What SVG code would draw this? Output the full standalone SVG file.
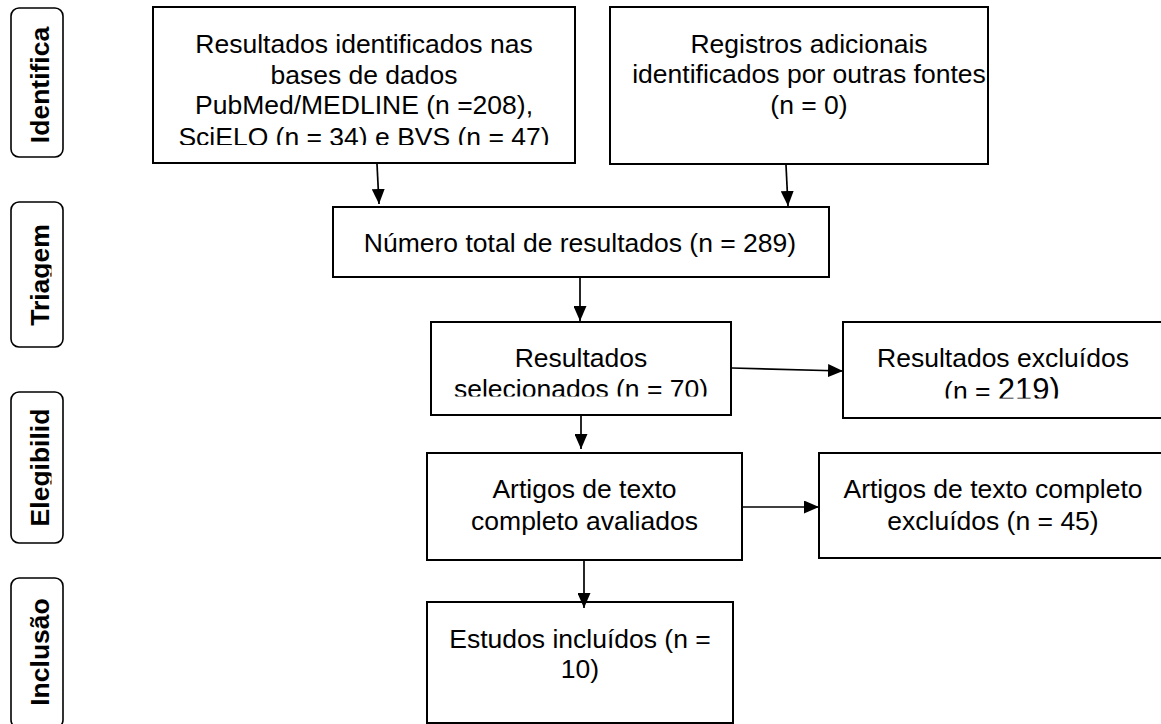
<svg xmlns="http://www.w3.org/2000/svg" width="1161" height="724" viewBox="0 0 1161 724">
<style>
.box{fill:#fff;stroke:#000;stroke-width:2}
.lab{fill:#fff;stroke:#000;stroke-width:1.6}
.t{font-family:"Liberation Sans",Arial,sans-serif;font-size:26.5px;fill:#000;text-anchor:middle}
.lt{font-family:"Liberation Sans",Arial,sans-serif;font-size:26.5px;font-weight:bold;fill:#000;text-anchor:middle}
.c{fill:none;stroke:#000;stroke-width:1.7}
</style>
<defs>
<marker id="ah" viewBox="0 0 15 13" refX="15" refY="6.5" markerWidth="15" markerHeight="13" markerUnits="userSpaceOnUse" orient="auto">
<path d="M0,0 L15,6.5 L0,13 z" fill="#000"/>
</marker>
<clipPath id="clipLab"><rect x="0" y="0" width="51.5" height="724"/></clipPath>
<clipPath id="clipB1"><rect x="150" y="0" width="430" height="145"/></clipPath>
<clipPath id="clipB4"><rect x="430" y="320" width="305" height="76.5"/></clipPath>
<clipPath id="clipB5"><rect x="840" y="320" width="321" height="78.5"/></clipPath>
</defs>
<rect width="1161" height="724" fill="#fff"/>

<g id="label-identifica">
<rect class="lab" x="11" y="8" width="52" height="149" rx="8"/>
<g clip-path="url(#clipLab)"><text class="lt" transform="translate(48.5,85) rotate(-90)">Identifica</text></g>
</g>
<g id="label-triagem">
<rect class="lab" x="11" y="202" width="52" height="145" rx="8"/>
<g clip-path="url(#clipLab)"><text class="lt" transform="translate(48.5,275) rotate(-90)">Triagem</text></g>
</g>
<g id="label-elegibilid">
<rect class="lab" x="11" y="392" width="52" height="151" rx="8"/>
<g clip-path="url(#clipLab)"><text class="lt" transform="translate(48.5,467.5) rotate(-90)">Elegibilid</text></g>
</g>
<g id="label-inclusao">
<rect class="lab" x="11" y="578" width="52" height="150" rx="8"/>
<g clip-path="url(#clipLab)"><text class="lt" transform="translate(48.5,652) rotate(-90)">Inclusão</text></g>
</g>

<g id="box-identificados">
<rect class="box" x="153" y="7" width="422" height="156"/>
<g clip-path="url(#clipB1)">
<text class="t" x="364" y="53">Resultados identificados nas</text>
<text class="t" x="364" y="83.5">bases de dados</text>
<text class="t" x="364" y="114">PubMed/MEDLINE (n =208),</text>
<text class="t" x="364" y="145.5">SciELO (n = 34) e BVS (n = 47)</text>
</g>
</g>

<g id="box-adicionais">
<rect class="box" x="610" y="7" width="378" height="157"/>
<text class="t" x="809" y="53">Registros adicionais</text>
<text class="t" x="809" y="83">identificados por outras fontes</text>
<text class="t" x="809" y="113.5">(n = 0)</text>
</g>

<g id="box-total">
<rect class="box" x="333" y="207" width="496" height="70"/>
<text class="t" x="580" y="252">Número total de resultados (n = 289)</text>
</g>

<g id="box-selecionados">
<rect class="box" x="431" y="322" width="300" height="93"/>
<g clip-path="url(#clipB4)">
<text class="t" x="581" y="367">Resultados</text>
<text class="t" x="581" y="397.5">selecionados (n = 70)</text>
</g>
</g>

<g id="box-excluidos">
<rect class="box" x="843" y="322" width="322" height="96"/>
<text class="t" x="1003" y="367">Resultados excluídos</text>
<g clip-path="url(#clipB5)">
<text class="t" x="1002" y="400">(n = <tspan style="font-size:31px">219)</tspan></text>
</g>
</g>

<g id="box-avaliados">
<rect class="box" x="427" y="453" width="315" height="107"/>
<text class="t" x="584.5" y="498">Artigos de texto</text>
<text class="t" x="584.5" y="530">completo avaliados</text>
</g>

<g id="box-texto-excluidos">
<rect class="box" x="819" y="453" width="346" height="105"/>
<text class="t" x="993" y="498">Artigos de texto completo</text>
<text class="t" x="993" y="530">excluídos (n = 45)</text>
</g>

<g id="box-incluidos">
<rect class="box" x="427" y="602" width="306" height="121"/>
<text class="t" x="580" y="648">Estudos incluídos (n =</text>
<text class="t" x="580" y="678">10)</text>
</g>

<g id="connectors">
<line class="c" x1="377" y1="164" x2="379" y2="204" marker-end="url(#ah)"/>
<line class="c" x1="786" y1="165" x2="788" y2="206" marker-end="url(#ah)"/>
<line class="c" x1="580" y1="278" x2="580" y2="321" marker-end="url(#ah)"/>
<line class="c" x1="732" y1="368" x2="843" y2="371" marker-end="url(#ah)"/>
<line class="c" x1="581" y1="416" x2="581" y2="449" marker-end="url(#ah)"/>
<line class="c" x1="743" y1="507" x2="819" y2="507" marker-end="url(#ah)"/>
<line class="c" x1="584" y1="561" x2="584" y2="608" marker-end="url(#ah)"/>
</g>
</svg>
